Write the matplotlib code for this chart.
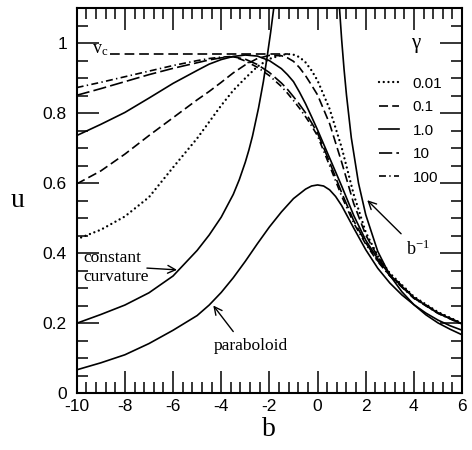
import matplotlib
matplotlib.use("Agg")
import matplotlib.pyplot as plt
from matplotlib.ticker import MultipleLocator, FuncFormatter
from matplotlib.lines import Line2D

plt.rcParams['font.family'] = ['Liberation Sans', 'DejaVu Sans']
plt.rcParams['axes.unicode_minus'] = False
plt.rcParams['lines.scale_dashes'] = False

# gamma curves
b_gam = [-10, -9, -8, -7, -6, -5, -4.5, -4, -3.5, -3, -2.5, -2, -1.5, -1.25, -1, -0.75, -0.5,
         -0.25, 0, 0.5, 1, 1.5, 2, 2.5, 3, 4, 5, 6]
u_g001 = [0.44, 0.467, 0.505, 0.56, 0.645, 0.728, 0.775, 0.822, 0.865, 0.9, 0.933, 0.955, 0.966,
          0.969, 0.967, 0.96, 0.945, 0.922, 0.893, 0.812, 0.702, 0.568, 0.46, 0.392, 0.343,
          0.276, 0.232, 0.2]
u_g01 = [0.598, 0.635, 0.683, 0.736, 0.787, 0.838, 0.862, 0.888, 0.915, 0.938, 0.956, 0.965, 0.964,
         0.958, 0.948, 0.93, 0.907, 0.88, 0.852, 0.77, 0.66, 0.542, 0.452, 0.39, 0.34,
         0.274, 0.23, 0.199]
u_g1 = [0.736, 0.768, 0.802, 0.843, 0.885, 0.922, 0.94, 0.953, 0.962, 0.966, 0.963, 0.95, 0.927,
        0.91, 0.89, 0.86, 0.827, 0.79, 0.752, 0.672, 0.592, 0.508, 0.437, 0.384, 0.338,
        0.273, 0.229, 0.198]
u_g10 = [0.851, 0.87, 0.89, 0.91, 0.928, 0.944, 0.952, 0.958, 0.961, 0.954, 0.939, 0.916, 0.886,
         0.868, 0.847, 0.825, 0.801, 0.773, 0.743, 0.66, 0.573, 0.493, 0.43, 0.378, 0.336,
         0.272, 0.229, 0.198]
u_g100 = [0.873, 0.888, 0.904, 0.92, 0.936, 0.95, 0.956, 0.96, 0.962, 0.949, 0.931, 0.907, 0.876,
          0.857, 0.836, 0.814, 0.79, 0.764, 0.735, 0.65, 0.563, 0.486, 0.426, 0.376, 0.335,
          0.271, 0.228, 0.197]
gamma_labels = ['0.01', '0.1', '1.0', '10', '100']

# paraboloid
b_par = [-10, -9, -8, -7, -6, -5, -4.5, -4, -3.5, -3, -2.5, -2, -1.5, -1, -0.5, -0.25, 0, 0.25,
         0.5, 0.75, 1, 1.5, 2, 2.5, 3, 3.5, 4, 4.5, 5, 5.5, 6]
u_par = [0.067, 0.087, 0.11, 0.142, 0.18, 0.222, 0.252, 0.288, 0.33, 0.377, 0.427, 0.475, 0.518,
         0.556, 0.583, 0.592, 0.595, 0.592, 0.581, 0.562, 0.536, 0.472, 0.41, 0.357, 0.315,
         0.281, 0.253, 0.229, 0.209, 0.193, 0.18]

# constant curvature
b_cc = [-10, -9, -8, -7, -6, -5, -4.5, -4, -3.5, -3.25, -3, -2.85, -2.7, -2.45, -2.25, -2.1,
        -1.95, -1.8]
u_cc = [0.2, 0.225, 0.252, 0.287, 0.335, 0.408, 0.452, 0.503, 0.568, 0.61, 0.66, 0.695, 0.735,
        0.815, 0.89, 0.958, 1.03, 1.11]

# b^-1
b_inv = [0.91, 1, 1.1, 1.2, 1.4, 1.7, 2, 2.5, 3, 3.5, 4, 4.5, 5, 5.5, 6]
u_inv = [1.1, 1.01, 0.925, 0.852, 0.73, 0.6, 0.51, 0.405, 0.337, 0.29, 0.253, 0.224, 0.201,
         0.183, 0.167]

# v_c line
b_vc = [-8.6, -1.24]
u_vc = [0.97, 0.97]

fig = plt.figure(figsize=(4.72, 4.5), dpi=100)
ax = fig.add_axes([0.1625, 0.126, 0.8165, 0.856])

lw = 1.2
styles = [(0, (0.01, 3.4)), (0, (6.5, 3.0)), '-', (0, (9.5, 3.0)), (0, (5.0, 2.4, 1.0, 2.4))]
widths = [1.7, lw, lw, lw, lw]
series = [u_g001, u_g01, u_g1, u_g10, u_g100]
handles = []
for u, ls, w in zip(series, styles, widths):
    ax.plot(b_gam, u, color='black', lw=w, linestyle=ls, dash_capstyle='round'
            if w > lw else 'butt')
    handles.append(Line2D([], [], color='black', lw=w, linestyle=ls,
                          dash_capstyle='round' if w > lw else 'butt'))

ax.plot(b_par, u_par, color='black', lw=lw)
ax.plot(b_cc, u_cc, color='black', lw=lw)
ax.plot(b_inv, u_inv, color='black', lw=lw)
ax.plot(b_vc, u_vc, color='black', lw=lw, linestyle=(0, (7, 3.5)))

ax.set_xlim(-10, 6)
ax.set_ylim(0, 1.1)
ax.xaxis.set_major_locator(MultipleLocator(2))
ax.xaxis.set_minor_locator(MultipleLocator(0.4))
ax.yaxis.set_major_locator(MultipleLocator(0.2))
ax.yaxis.set_minor_locator(MultipleLocator(0.05))
ax.yaxis.set_major_formatter(FuncFormatter(lambda v, p: '%g' % round(v, 2)))
ax.tick_params(which='both', direction='in', top=True, right=True, width=1.1)
ax.tick_params(which='major', length=15.5, labelsize=12.5)
ax.tick_params(which='minor', length=8)
ax.tick_params(axis='y', which='major', pad=7)
ax.tick_params(axis='x', which='major', pad=4)
for s in ax.spines.values():
    s.set_linewidth(1.5)

serif = ['Liberation Serif', 'DejaVu Serif']
ax.set_xlabel('b', family=serif, fontsize=20, labelpad=2)
ax.set_ylabel('u', family=serif, fontsize=20, rotation=0, labelpad=18, va='center')

ax.text(-9.35, 0.982, r'$\mathregular{v_c}$', family=serif, fontsize=13, va='center')
ax.text(-9.73, 0.36, 'constant\ncurvature', family=serif, fontsize=12.5, va='center',
        linespacing=1.25)
ax.annotate('', xy=(-5.72, 0.352), xytext=(-7.2, 0.358),
            arrowprops=dict(arrowstyle='->', color='black', lw=1.0, mutation_scale=14))
ax.text(-2.75, 0.135, 'paraboloid', family=serif, fontsize=12.5, ha='center', va='center')
ax.annotate('', xy=(-4.4, 0.257), xytext=(-3.43, 0.17),
            arrowprops=dict(arrowstyle='->', color='black', lw=1.0, mutation_scale=14))
ax.text(3.66, 0.41, r'$\mathregular{b^{-1}}$', family=serif, fontsize=13, va='center')
ax.annotate('', xy=(1.98, 0.557), xytext=(3.55, 0.45),
            arrowprops=dict(arrowstyle='->', color='black', lw=1.0, mutation_scale=14))

ax.text(4.09, 0.999, 'γ', family=serif, fontsize=15, ha='center', va='center')
ax.legend(handles, gamma_labels, loc='upper left', bbox_to_anchor=(0.785, 0.822),
          frameon=False, fontsize=11, handlelength=1.3, handletextpad=0.9,
          labelspacing=0.62, borderpad=0, borderaxespad=0)

fig.savefig('out.png', dpi=100)
